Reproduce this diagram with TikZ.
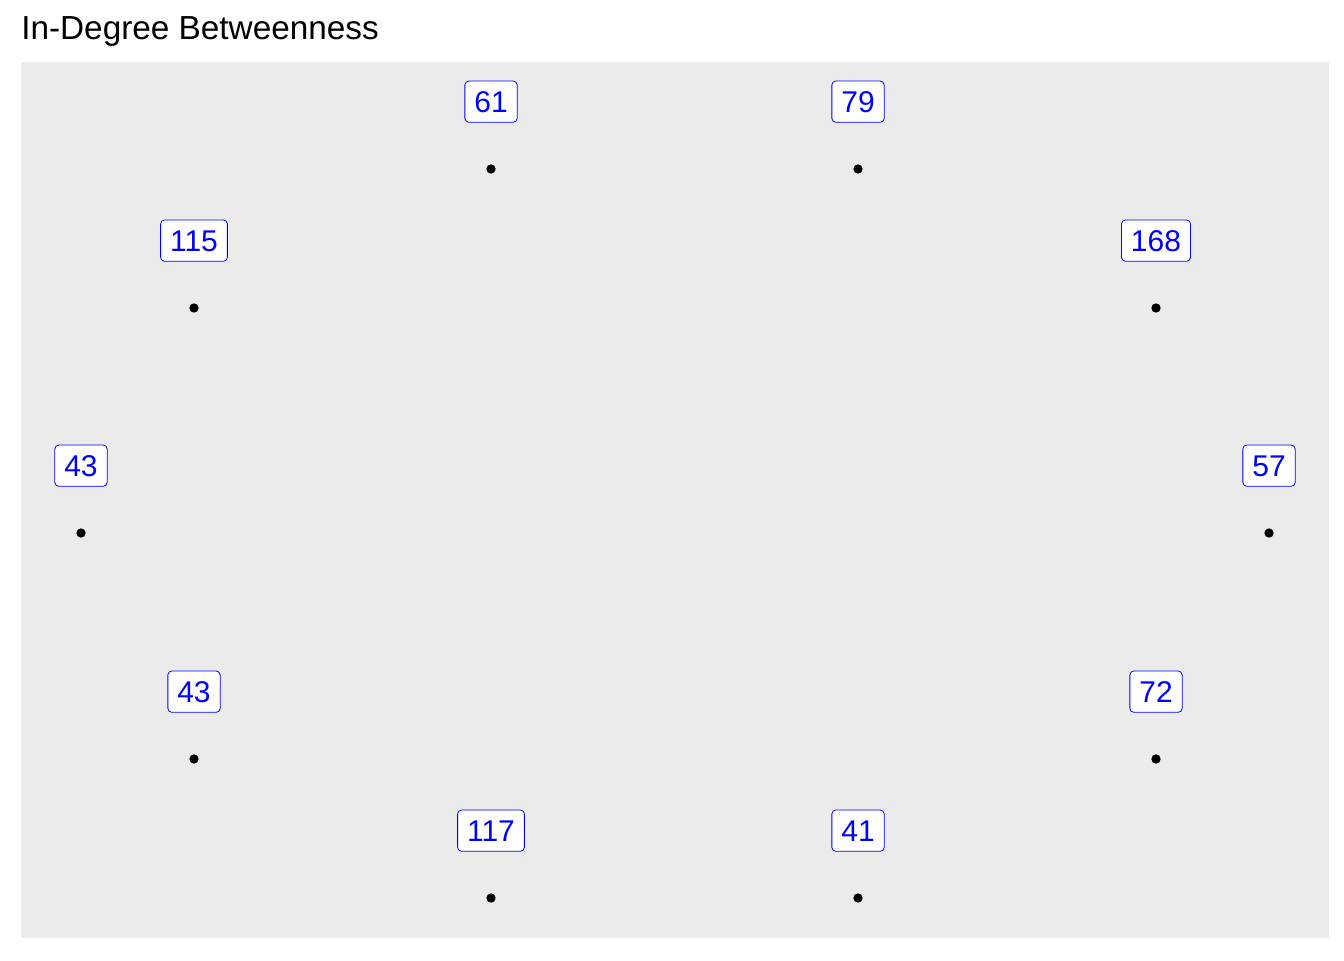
\documentclass[tikz,border=0pt]{standalone}
\usepackage{fontspec}
\setmainfont{Liberation Sans}
\usetikzlibrary{positioning}

\definecolor{panelgray}{RGB}{235,235,235}

\begin{document}
\begin{tikzpicture}[x=0.75pt,y=-0.75pt,
		punkt/.style={circle, fill=black, inner sep=0pt, minimum size=7pt},
		etikett/.style={draw=blue, text=blue, fill=white, rounded corners=3pt,
			line width=0.6pt, font=\fontsize{22.5}{26}\selectfont,
			inner xsep=7.1pt, inner ysep=7.5pt, text height=16pt, text depth=0pt}]
		% Ramme
		\useasboundingbox (0,0) rectangle (1344,960);
		\fill[white] (0,0) rectangle (1344,960);
		\fill[panelgray] (21,62) rectangle (1329,938);

		% Tittel
		\node[anchor=base west, inner sep=0pt, font=\fontsize{25}{29}\selectfont]
			(tittel) at (21,39.5) {In-Degree Betweenness};

		% Noder med etiketter
		\foreach \navn/\x/\y/\verdi in {
			a/491/169/61, b/858/169/79, c/194/308/115, d/1156/308/168,
			e/81/533/43, f/1269/533/57, g/194/759/43, h/1156/759/72,
			i/491/898/117, j/858/898/41}{
			\node[punkt] (\navn) at (\x,\y) {};
			\node[etikett, above=31pt of \navn] (\navn-lab) {\verdi};
		}
	\end{tikzpicture}
\end{document}
